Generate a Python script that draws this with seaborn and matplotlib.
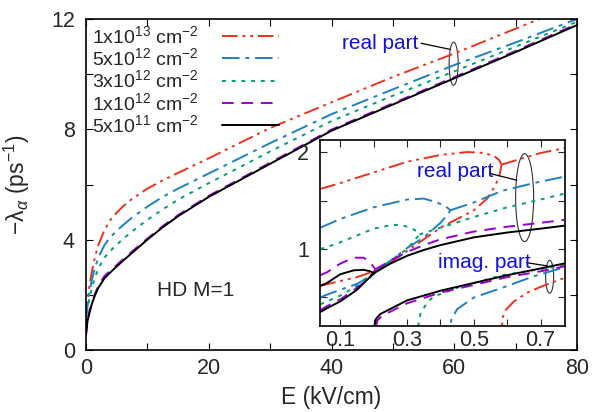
import numpy as np
import pandas as pd
import matplotlib
matplotlib.use("Agg")
import matplotlib.pyplot as plt
from matplotlib.patches import Ellipse
import seaborn as sns

# ---------------- data: main panel ----------------
E = [0, 0.25, 0.5, 1, 1.5, 2, 3, 4, 5, 6, 7.5, 10, 12.5, 15, 20, 25, 30, 40, 50, 60, 70, 80]
lam_1e13 = [1.2, 1.8, 2.25, 2.9, 3.4, 3.8, 4.35, 4.72, 4.98, 5.2, 5.48, 5.85, 6.15, 6.42,
            6.95, 7.5, 8.05, 8.98, 9.9, 10.75, 11.65, 12.55]
lam_5e12 = [1.1, 1.6, 2.0, 2.6, 3.0, 3.35, 3.8, 4.1, 4.32, 4.52, 4.8, 5.2, 5.55, 5.85,
            6.4, 6.95, 7.5, 8.55, 9.45, 10.33, 11.15, 12.0]
lam_3e12 = [1.0, 1.45, 1.8, 2.3, 2.65, 2.95, 3.35, 3.6, 3.82, 4.02, 4.3, 4.72, 5.1, 5.45,
            6.05, 6.62, 7.2, 8.3, 9.22, 10.1, 11.0, 11.9]
lam_1e12 = [0.5, 1.05, 1.33, 1.75, 2.06, 2.32, 2.68, 2.88, 3.08, 3.28, 3.57, 4.04, 4.49, 4.89,
            5.59, 6.19, 6.79, 7.99, 8.94, 9.89, 10.84, 11.82]
lam_5e11 = [0.6, 1.05, 1.3, 1.7, 2.0, 2.25, 2.6, 2.82, 3.03, 3.23, 3.52, 4.0, 4.45, 4.85,
            5.55, 6.15, 6.75, 7.95, 8.9, 9.85, 10.8, 11.78]

labels = ["1x10$^{13}$ cm$^{-2}$", "5x10$^{12}$ cm$^{-2}$", "3x10$^{12}$ cm$^{-2}$",
          "1x10$^{12}$ cm$^{-2}$", "5x10$^{11}$ cm$^{-2}$"]

# ---------------- data: inset (E in kV/cm) ----------------
# red 1e13
r_up_x = [0.04, 0.06, 0.1, 0.2, 0.3, 0.4, 0.48, 0.53, 0.56, 0.575, 0.583]
r_up_y = [1.62, 1.64, 1.68, 1.79, 1.90, 1.97, 2.0, 1.99, 1.96, 1.92, 1.87]
r_lo_x = [0.04, 0.1, 0.15, 0.2, 0.25, 0.3, 0.35, 0.4, 0.45, 0.5, 0.54, 0.565, 0.578, 0.583]
r_lo_y = [0.62, 0.67, 0.71, 0.77, 0.86, 0.98, 1.10, 1.22, 1.31, 1.40, 1.52, 1.66, 1.78, 1.87]
r_re_x = [0.583, 0.65, 0.7, 0.77]
r_re_y = [1.87, 1.94, 1.99, 2.04]
r_im_x = [0.583, 0.584, 0.587, 0.595, 0.62, 0.66, 0.7, 0.77]
r_im_y = [0.0, 0.2, 0.3, 0.37, 0.46, 0.55, 0.61, 0.70]
# blue 5e12
b_up_x = [0.04, 0.06, 0.1, 0.2, 0.3, 0.35, 0.39, 0.415, 0.43]
b_up_y = [1.22, 1.25, 1.31, 1.43, 1.51, 1.52, 1.48, 1.44, 1.40]
b_lo_x = [0.04, 0.06, 0.1, 0.15, 0.2, 0.25, 0.3, 0.35, 0.4, 0.42, 0.43]
b_lo_y = [0.50, 0.53, 0.58, 0.64, 0.74, 0.88, 1.01, 1.12, 1.27, 1.35, 1.40]
b_re_x = [0.43, 0.5, 0.585, 0.68, 0.77]
b_re_y = [1.40, 1.48, 1.60, 1.68, 1.745]
b_im_x = [0.428, 0.429, 0.433, 0.45, 0.5, 0.585, 0.68, 0.77]
b_im_y = [0.0, 0.2, 0.28, 0.38, 0.5, 0.6, 0.72, 0.81]
# green 3e12
g_up_x = [0.04, 0.06, 0.1, 0.15, 0.2, 0.25, 0.28, 0.31, 0.33, 0.337]
g_up_y = [1.0, 1.02, 1.07, 1.14, 1.21, 1.245, 1.25, 1.22, 1.18, 1.15]
g_lo_x = [0.04, 0.06, 0.1, 0.15, 0.2, 0.25, 0.3, 0.337]
g_lo_y = [0.43, 0.46, 0.52, 0.62, 0.76, 0.88, 1.0, 1.15]
g_re_x = [0.337, 0.4, 0.5, 0.6, 0.7, 0.77]
g_re_y = [1.15, 1.22, 1.33, 1.43, 1.51, 1.57]
g_im_x = [0.333, 0.334, 0.34, 0.36, 0.38, 0.45, 0.585, 0.77]
g_im_y = [0.0, 0.22, 0.33, 0.45, 0.51, 0.6, 0.73, 0.83]
# purple 1e12
p_up_x = [0.04, 0.06, 0.1, 0.14, 0.17, 0.19, 0.205]
p_up_y = [0.73, 0.76, 0.85, 0.91, 0.91, 0.86, 0.79]
p_lo_x = [0.04, 0.06, 0.1, 0.15, 0.19, 0.205]
p_lo_y = [0.37, 0.41, 0.48, 0.60, 0.71, 0.79]
p_re_x = [0.205, 0.25, 0.3, 0.35, 0.4, 0.5, 0.6, 0.7, 0.77]
p_re_y = [0.79, 0.88, 0.97, 1.04, 1.10, 1.18, 1.23, 1.27, 1.30]
p_im_x = [0.205, 0.206, 0.212, 0.23, 0.3, 0.4, 0.5, 0.6, 0.7, 0.77]
p_im_y = [0.0, 0.2, 0.27, 0.32, 0.44, 0.55, 0.63, 0.71, 0.77, 0.82]
# black 5e11
k_up_x = [0.04, 0.06, 0.1, 0.14, 0.17, 0.19, 0.2]
k_up_y = [0.62, 0.65, 0.74, 0.78, 0.785, 0.77, 0.75]
k_lo_x = [0.04, 0.06, 0.1, 0.15, 0.2]
k_lo_y = [0.35, 0.39, 0.46, 0.58, 0.75]
k_re_x = [0.2, 0.25, 0.3, 0.35, 0.4, 0.5, 0.6, 0.7, 0.77]
k_re_y = [0.75, 0.85, 0.93, 0.99, 1.04, 1.12, 1.17, 1.21, 1.24]
k_im_x = [0.2, 0.201, 0.207, 0.22, 0.3, 0.4, 0.5, 0.6, 0.7, 0.77]
k_im_y = [0.0, 0.2, 0.28, 0.33, 0.47, 0.57, 0.65, 0.73, 0.8, 0.85]

# ---------------- style ----------------
sns.set_theme(style="ticks")
plt.rcParams['font.family'] = ['Liberation Sans', 'DejaVu Sans']
plt.rcParams['mathtext.fontset'] = 'custom'
plt.rcParams['mathtext.rm'] = 'Liberation Sans'
plt.rcParams['mathtext.it'] = 'Liberation Sans:italic'
plt.rcParams['mathtext.cal'] = 'Liberation Sans'
plt.rcParams['mathtext.sf'] = 'Liberation Sans'

FS = 15.5
LFS = 14
colors = ['#e8331f', '#1f80c0', '#009e73', '#9400d3', '#000000']
dashes = [(0, (8, 2.5, 1.5, 2.5, 1.5, 2.5)), (0, (9, 3, 2, 3)), (0, (2, 3)),
          (0, (6, 4)), '-']
lw = 1.4

fig = plt.figure(figsize=(5.97, 4.12), dpi=100)
ax = fig.add_axes([86/597, 1-350/412, (577-86)/597, (350-19)/412])

series = [lam_1e13, lam_5e12, lam_3e12, lam_1e12, lam_5e11]
for vals, c, ls, lab in zip(series, colors, dashes, labels):
    df = pd.DataFrame({"E": E, "lam": vals})
    sns.lineplot(data=df, x="E", y="lam", ax=ax, color=c, lw=lw, label=lab,
                 estimator=None, sort=False)
    ax.lines[-1].set_linestyle(ls)

ax.set_xlim(0, 80)
ax.set_ylim(0, 12)
ax.set_xticks([0, 20, 40, 60, 80])
ax.set_xticks([10, 30, 50, 70], minor=True)
ax.set_yticks([0, 4, 8, 12])
ax.set_yticks([2, 6, 10], minor=True)
ax.tick_params(which='both', direction='in', top=True, right=True, labelsize=FS,
               width=0.8, color='black', length=5)
ax.tick_params(axis='x', pad=6)
ax.tick_params(axis='y', pad=8)
for s in ax.spines.values():
    s.set_linewidth(1.2)
    s.set_color('black')
ax.set_xlabel("E (kV/cm)", fontsize=16.5, labelpad=5)
ax.set_ylabel("\u2212\u03bb$_{\u03b1}$ (ps$^{-1}$)", fontsize=16.5, labelpad=14)

leg = ax.legend(loc='upper left', bbox_to_anchor=(0.0, 1.0), frameon=False,
                markerfirst=False, fontsize=LFS, handlelength=2.95, handletextpad=1.2,
                labelspacing=0.02, borderaxespad=0.0, borderpad=0.3)
for h, ls in zip(leg.get_lines(), dashes):
    h.set_linestyle(ls)

ax.text(17.9, 2.14, "HD M=1", fontsize=15, ha='center', va='center')
ax.text(47.9, 11.1, "real part", fontsize=15, color='#1010e0', ha='center', va='center')
ax.plot([54.6, 59.3], [11.12, 10.9], color='black', lw=0.9)
ax.add_patch(Ellipse((59.9, 10.38), 1.47, 1.56, fill=False, lw=0.8, ec='#333333'))

# ---------------- inset ----------------
ins = fig.add_axes([320/597, 1-326/412, (565-320)/597, (326-140)/412])
groups = [
    [(r_up_x, r_up_y), (r_lo_x, r_lo_y), (r_re_x, r_re_y), (r_im_x, r_im_y)],
    [(b_up_x, b_up_y), (b_lo_x, b_lo_y), (b_re_x, b_re_y), (b_im_x, b_im_y)],
    [(g_up_x, g_up_y), (g_lo_x, g_lo_y), (g_re_x, g_re_y), (g_im_x, g_im_y)],
    [(p_up_x, p_up_y), (p_lo_x, p_lo_y), (p_re_x, p_re_y), (p_im_x, p_im_y)],
    [(k_up_x, k_up_y), (k_lo_x, k_lo_y), (k_re_x, k_re_y), (k_im_x, k_im_y)],
]
for grp, c, ls in zip(groups, colors, dashes):
    for xs, ys in grp:
        df = pd.DataFrame({"x": xs, "y": ys})
        sns.lineplot(data=df, x="x", y="y", ax=ins, color=c, lw=lw,
                     estimator=None, sort=False, legend=False)
        ins.lines[-1].set_linestyle(ls)

ins.set_xlim(0.039, 0.773)
ins.set_ylim(0.206, 2.124)
ins.set_xticks([0.1, 0.3, 0.5, 0.7])
ins.set_xticklabels(["0.1", "0.3", "0.5", "0.7"])
ins.set_xticks([0.2, 0.4, 0.6], minor=True)
ins.set_yticks([1, 2])
ins.set_yticks([0.5, 1.5], minor=True)
ins.tick_params(which='both', direction='in', top=True, right=True, labelsize=FS,
                length=5, width=0.8, pad=3)
ins.tick_params(axis='y', pad=8)
ins.set_xlabel("")
ins.set_ylabel("")
for s in ins.spines.values():
    s.set_linewidth(1.2)
    s.set_color('black')
ins.set_facecolor('white')

ins.text(0.4426, 1.80, "real part", fontsize=15, color='#1010e0', ha='center', va='center')
ins.plot([0.547, 0.628], [1.78, 1.71], color='black', lw=0.9)
ins.add_patch(Ellipse((0.652, 1.53), 0.054, 0.907, fill=False, lw=0.8, ec='#333333'))
ins.text(0.531, 0.86, "imag. part", fontsize=15, color='#1010e0', ha='center', va='center')
ins.plot([0.658, 0.721], [0.859, 0.825], color='black', lw=0.9)
ins.add_patch(Ellipse((0.727, 0.714), 0.024, 0.34, fill=False, lw=0.8, ec='#333333'))

fig.savefig("out.png", dpi=100)
